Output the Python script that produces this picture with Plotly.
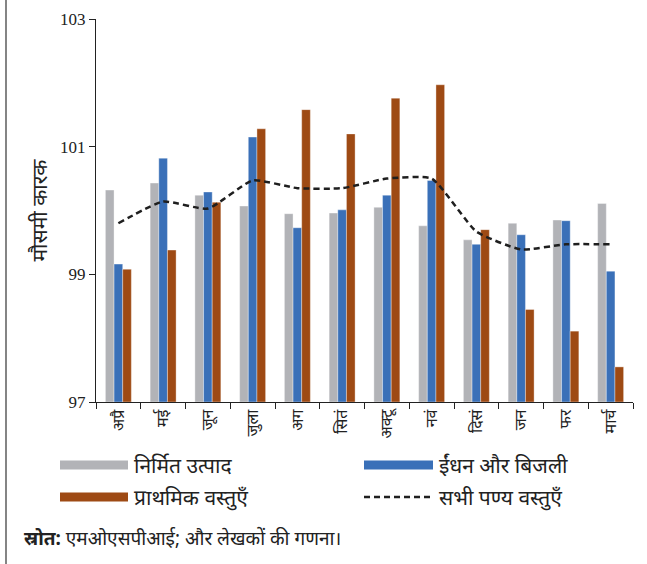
import plotly.graph_objects as go

months = ["अप्रै", "मई", "जून", "जुला", "अग", "सितं", "अक्टू", "नवं", "दिसं", "जन", "फर", "मार्च"]
manufactured = [100.32, 100.43, 100.24, 100.07, 99.95, 99.96, 100.05, 99.76, 99.54, 99.80, 99.85, 100.11]
fuel_power = [99.16, 100.82, 100.29, 101.15, 99.73, 100.01, 100.24, 100.47, 99.47, 99.62, 99.84, 99.05]
primary = [99.08, 99.38, 100.13, 101.28, 101.58, 101.20, 101.76, 101.97, 99.70, 98.45, 98.11, 97.55]
all_commodities = [99.80, 100.14, 100.03, 100.47, 100.35, 100.35, 100.50, 100.50, 99.67, 99.39, 99.47, 99.47]

names = ["निर्मित उत्पाद", "ईंधन और बिजली", "प्राथमिक वस्तुएँ", "सभी पण्य वस्तुएँ"]
colors = ["#B2B3B7", "#3A70B8", "#9E4A14", "#1f1f1f"]

FONT = "Noto Sans, Liberation Sans, sans-serif"
BASE = 97

fig = go.Figure()
for vals, nm, col in zip([manufactured, fuel_power, primary], names[:3], colors[:3]):
    fig.add_trace(go.Bar(x=months, y=[v - BASE for v in vals], base=BASE, name=nm,
                         marker=dict(color=col, line=dict(color="rgba(255,255,255,0.6)", width=0.6)),
                         showlegend=False))

fig.add_trace(go.Scatter(x=months, y=all_commodities, name=names[3], mode="lines",
                         line=dict(color=colors[3], width=2.5, dash="6px,4px", shape="spline", smoothing=0.5),
                         showlegend=False))

fig.update_layout(
    width=647, height=564,
    margin=dict(l=96, r=14, t=19, b=162),
    paper_bgcolor="white", plot_bgcolor="white",
    barmode="group", bargap=0.42, bargroupgap=0,
    font=dict(family=FONT, color="#222"),
    xaxis=dict(showline=True, linecolor="#222", linewidth=1.3, ticks="outside", ticklen=6, tickcolor="#222",
               tickson="boundaries", tickangle=-90, tickfont=dict(size=16, family=FONT, color="#222"),
               showgrid=False, zeroline=False, automargin=False),
    yaxis=dict(range=[97, 103], tickvals=[97, 99, 101, 103], showline=True, linecolor="#222", linewidth=1.3,
               ticks="outside", ticklen=6, tickcolor="#222", showgrid=False, zeroline=False, automargin=False,
               tickfont=dict(size=17, family="Liberation Serif, serif", color="#222"),
               title=dict(text="मौसमी कारक", font=dict(size=21, family=FONT, color="#222"), standoff=6)),
)

# custom legend
def px_x(p):
    return (p - 96) / 537

def px_y(p):
    return (402 - p) / 383

legend_items = [
    (60, 128, 465, 0), (364, 433, 465, 1), (60, 128, 497, 2), (364, 433, 497, 3)
]
for x0, x1, yc, i in legend_items:
    if i < 3:
        fig.add_shape(type="rect", xref="paper", yref="paper", x0=px_x(x0), x1=px_x(x1),
                      y0=px_y(yc - 4.5), y1=px_y(yc + 4.5), fillcolor=colors[i], line=dict(width=0))
    else:
        fig.add_shape(type="line", xref="paper", yref="paper", x0=px_x(x0), x1=px_x(x1),
                      y0=px_y(yc), y1=px_y(yc), line=dict(color=colors[3], width=2.5, dash="6px,4px"))
    fig.add_annotation(text=names[i], xref="paper", yref="paper", x=px_x(x1 + 4), y=px_y(yc),
                       xanchor="left", yanchor="middle", showarrow=False,
                       font=dict(size=21, family=FONT, color="#222"))

fig.add_annotation(text="<b>स्रोत:</b> एमओएसपीआई; और लेखकों की गणना।", xref="paper", yref="paper",
                   x=px_x(22), y=px_y(538), xanchor="left", yanchor="middle", showarrow=False,
                   font=dict(size=19, family=FONT, color="#222"))

# left frame line
fig.add_shape(type="line", xref="paper", yref="paper", x0=px_x(6), x1=px_x(6), y0=px_y(0), y1=px_y(564),
              line=dict(color="#333", width=1.2))

fig.write_html("out.html", config={"displayModeBar": False},
               post_script="document.body.style.margin='0px';")
